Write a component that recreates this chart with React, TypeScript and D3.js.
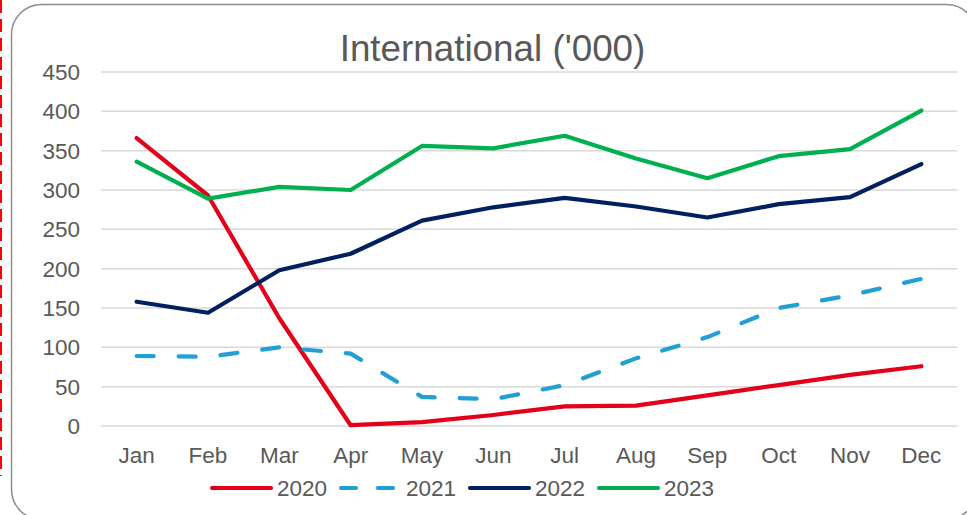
import React from "react";
import * as d3 from "d3";

const months = ["Jan", "Feb", "Mar", "Apr", "May", "Jun", "Jul", "Aug", "Sep", "Oct", "Nov", "Dec"];
const yTicks = [0, 50, 100, 150, 200, 250, 300, 350, 400, 450];

const v2020 = [366, 293, 137, 1, 5, 14, 25, 26, 39, 52, 65, 76];
const v2021 = [89, 88, 100, 92, 37, 34, 52, 86, 113, 150, 166, 187];
const v2022 = [158, 144, 198, 219, 261, 278, 290, 279, 265, 282, 291, 333];
const v2023 = [336, 289, 304, 300, 356, 353, 369, 340, 315, 343, 352, 401];

const seriesNames = ["2020", "2021", "2022", "2023"];
const seriesValues = [v2020, v2021, v2022, v2023];
const seriesColors = ["#e3001b", "#22a0d6", "#002060", "#00b050"];
const seriesDashed = [false, true, false, false];

const W = 967;
const H = 515;
const FONT = "'Liberation Sans', Arial, sans-serif";
const TEXT = "#595959";

export default function App() {
  const x = d3.scalePoint<string>().domain(months).range([101, 957]).padding(0.5);
  const y = d3.scaleLinear().domain([0, 450]).range([426, 72]);
  const line = d3
    .line<number>()
    .x((_, i) => x(months[i]) as number)
    .y((d) => y(d));

  const legendX = [210, 339, 468, 597];
  const legendY = 488;

  return (
    <svg
      width={W}
      height={H}
      style={{ position: "fixed", left: 0, top: 0, background: "#fff" }}
      fontFamily={FONT}
    >
      <rect x={0} y={0} width={W} height={H} fill="#fff" />
      <line x1={1} y1={0} x2={1} y2={476} stroke="#ff0000" strokeWidth={2} strokeDasharray="13 6" />
      <rect x={11.5} y={4.5} width={965} height={515} rx={30} ry={30} fill="#fff" stroke="#8c8c8c" strokeWidth={1.5} />
      <text x={492.5} y={61} textAnchor="middle" fontSize={36.8} fill={TEXT}>
        International ('000)
      </text>
      {yTicks.map((t) => (
        <g key={t}>
          <line x1={101} x2={957} y1={y(t)} y2={y(t)} stroke="#d9d9d9" strokeWidth={1.5} />
          <text x={80} y={y(t)} dy="0.36em" textAnchor="end" fontSize={22.5} fill={TEXT}>
            {t}
          </text>
        </g>
      ))}
      {months.map((m) => (
        <text key={m} x={x(m)} y={463} textAnchor="middle" fontSize={22.5} fill={TEXT}>
          {m}
        </text>
      ))}
      {seriesValues.map((vals, i) => (
        <path
          key={seriesNames[i]}
          d={line(vals) || ""}
          fill="none"
          stroke={seriesColors[i]}
          strokeWidth={4.2}
          strokeLinecap="round"
          strokeLinejoin="round"
          strokeDasharray={seriesDashed[i] ? "17 25" : undefined}
        />
      ))}
      {seriesNames.map((n, i) => (
        <g key={n}>
          <line
            x1={legendX[i] + 2}
            x2={seriesDashed[i] ? legendX[i] + 55 : legendX[i] + 61}
            y1={legendY}
            y2={legendY}
            stroke={seriesColors[i]}
            strokeWidth={4.2}
            strokeLinecap="round"
            strokeDasharray={seriesDashed[i] ? "15 22" : undefined}
          />
          <text x={legendX[i] + 67} y={legendY} dy="0.36em" fontSize={22.5} fill={TEXT}>
            {n}
          </text>
        </g>
      ))}
    </svg>
  );
}
